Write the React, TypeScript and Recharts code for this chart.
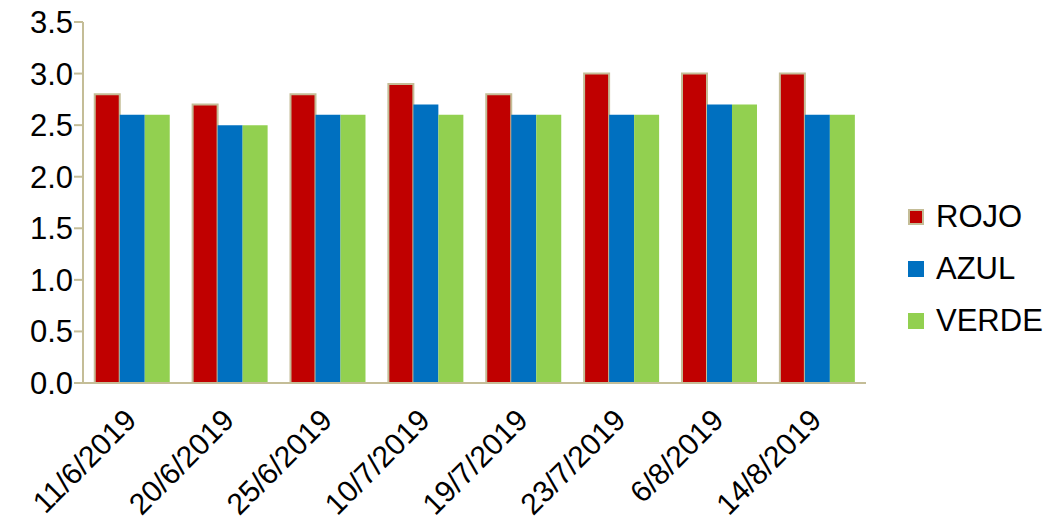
import React from "react";
import { BarChart, Bar, XAxis, YAxis, Legend } from "recharts";

const fechas = [
  "11/6/2019",
  "20/6/2019",
  "25/6/2019",
  "10/7/2019",
  "19/7/2019",
  "23/7/2019",
  "6/8/2019",
  "14/8/2019",
];
const rojo = [2.8, 2.7, 2.8, 2.9, 2.8, 3.0, 3.0, 3.0];
const azul = [2.6, 2.5, 2.6, 2.7, 2.6, 2.6, 2.7, 2.6];
const verde = [2.6, 2.5, 2.6, 2.6, 2.6, 2.6, 2.7, 2.6];
const yTicks = [0, 0.5, 1, 1.5, 2, 2.5, 3, 3.5];

const data = fechas.map((fecha, i) => ({
  fecha,
  ROJO: rojo[i],
  AZUL: azul[i],
  VERDE: verde[i],
}));

const FONT = '"Liberation Sans", Arial, sans-serif';
const AXIS = "#C4BD97";

const series = [
  { key: "ROJO", color: "#C00000", border: AXIS },
  { key: "AZUL", color: "#0070C0", border: null },
  { key: "VERDE", color: "#92D050", border: null },
];

// rotated date labels, anchored at their end just under each group
function DateTick(props: any) {
  const { x, y, payload } = props;
  const tx = x + 6;
  const ty = y + 39;
  return (
    <text
      x={tx}
      y={ty}
      textAnchor="end"
      fontSize={30}
      fontFamily={FONT}
      fill="#000"
      transform={`rotate(-45, ${tx}, ${ty})`}
    >
      {payload.value}
    </text>
  );
}

function LegendBox() {
  return (
    <div style={{ width: 150, fontFamily: FONT, fontSize: 31, color: "#000" }}>
      {series.map((s) => (
        <div
          key={s.key}
          style={{ display: "flex", alignItems: "center", height: 52 }}
        >
          <span
            style={{
              display: "inline-block",
              width: 16,
              height: 16,
              background: s.color,
              border: s.border ? `2px solid ${s.border}` : "none",
              boxSizing: "border-box",
              marginRight: 12,
            }}
          />
          <span>{s.key}</span>
        </div>
      ))}
    </div>
  );
}

export default function App() {
  return (
    <div style={{ position: "absolute", left: 0, top: 0, background: "#fff" }}>
      <BarChart
        width={1054}
        height={522}
        data={data}
        margin={{ top: 22, right: 38, bottom: 0, left: 0 }}
        barCategoryGap="12%"
        barGap={0}
      >
        <XAxis
          dataKey="fecha"
          height={139}
          stroke={AXIS}
          strokeWidth={2}
          tickLine={false}
          tickSize={0}
          tickMargin={0}
          interval={0}
          tick={<DateTick />}
        />
        <YAxis
          width={83}
          domain={[0, 3.5]}
          ticks={yTicks}
          tickFormatter={(v: number) => v.toFixed(1)}
          stroke={AXIS}
          strokeWidth={2}
          tickSize={9}
          tickMargin={1}
          tick={{ fill: "#000", fontSize: 31, fontFamily: FONT }}
        />
        <Legend
          layout="vertical"
          align="right"
          verticalAlign="middle"
          content={<LegendBox />}
          wrapperStyle={{ left: 908, top: 191, right: "auto" }}
        />
        {series.map((s) => (
          <Bar
            key={s.key}
            dataKey={s.key}
            fill={s.color}
            stroke={s.border ?? undefined}
            strokeWidth={s.border ? 2 : 0}
            isAnimationActive={false}
          />
        ))}
      </BarChart>
    </div>
  );
}
